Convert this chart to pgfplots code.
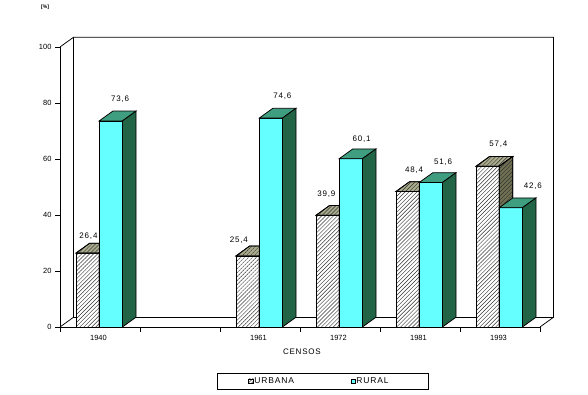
\documentclass[border=0pt]{standalone}
\usepackage{pgfplots}
\pgfplotsset{compat=1.18}
\usepackage{pgfplotstable}
\usetikzlibrary{patterns.meta}
\usepackage{fontspec}
\setmainfont{Liberation Sans}
\newfontfamily\lsp[LetterSpace=10]{Liberation Sans}

\definecolor{cyanfront}{HTML}{66FFFF}
\definecolor{ruraltop}{HTML}{409E80}
\definecolor{ruralside}{HTML}{216446}
\definecolor{urbtop}{HTML}{ABAB8E}
\definecolor{urbside}{HTML}{707052}

\pgfplotstableread{
idx urbana rural
0 26.4 73.6
2 25.4 74.6
3 39.9 60.1
4 48.4 51.6
5 57.4 42.6
}\census

\pgfplotstableread{
x y lab
0.356 32.5 26,4
0.750 81.4 73,6
2.237 31.1 25,4
2.780 82.5 74,6
3.330 47.5 39,9
3.770 67.1 60,1
4.425 56.1 48,4
4.790 58.9 51,6
5.480 65.4 57,4
5.910 50.1 42,6
}\labels

\def\dx{0.17}
\def\dy{3.5}

\tikzset{
  hatch/.style={pattern={Lines[angle=45,distance=2.8pt,line width=0.45pt]}, pattern color=black!80},
}
\pgfplotsset{
  urbfront/.style={preaction={fill=white}, hatch, draw=black, line width=0.75pt},
  urbtopst/.style={preaction={fill=urbtop}, hatch, draw=black, line width=0.75pt},
  urbsidest/.style={preaction={fill=urbside}, hatch, draw=black, line width=0.75pt},
  rurfront/.style={fill=cyanfront, draw=black, line width=0.75pt},
  rurtopst/.style={fill=ruraltop, draw=black, line width=0.75pt},
  rursidest/.style={fill=ruralside, draw=black, line width=0.75pt},
}

\begin{document}
\begin{tikzpicture}
\useasboundingbox (0,0) rectangle (588pt,395pt);
\begin{axis}[
  at={(60pt,68pt)}, anchor=origin,
  scale only axis, width=480pt, height=280pt,
  xmin=0, xmax=6, ymin=0, ymax=100,
  clip=false,
  axis x line*=bottom, axis y line*=left,
  axis line style={line width=0.75pt, black},
  tick style={line width=0.75pt, black},
  tick align=outside, major tick length=5pt,
  xtick={0,1,...,6},
  xticklabels={1940,{},1961,1972,1981,1993,{}},
  xticklabel style={xshift=38.5pt, font=\fontsize{7.5}{9}\selectfont},
  ytick={0,20,...,100},
  yticklabel style={font=\fontsize{7.5}{9}\selectfont},
  /pgf/number format/assume math mode=true,
  xlabel={\lsp CENSOS},
  xlabel style={font=\fontsize{8}{9}\selectfont, at={(axis description cs:0.504,0)}, anchor=center, yshift=-25pt},
  ylabel={[\%]},
  ylabel style={rotate=-90, font=\fontsize{5}{6}\selectfont\bfseries, at={(axis description cs:-0.031,1.143)}, anchor=center},
  legend style={at={(axis description cs:0.3271,-0.1939)}, anchor=west,
    draw=black, line width=0.75pt, inner xsep=31pt, inner ysep=3pt,
    font=\fontsize{8.5}{10}\selectfont\lsp,
    legend columns=2,
    nodes={inner xsep=0.6pt, inner ysep=1pt},
    /tikz/every even column/.append style={column sep=56pt}},
]
% back wall and floor
\addplot[black, line width=0.75pt, forget plot] coordinates {(0,100) (0.17,103.5) (6.17,103.5) (6.17,3.5) (6,0)};
\addplot[black, line width=0.75pt, forget plot] coordinates {(0.17,103.5) (0.17,3.5) (6.17,3.5)};
\addplot[black, line width=0.75pt, forget plot] coordinates {(0,0) (0.17,3.5)};

% URBANA bars
\addplot[ybar, bar width=0.29, bar shift=0pt, urbfront,
  legend image code/.code={\draw[preaction={fill=white}, pattern={Lines[angle=45,distance=2.2pt,line width=0.4pt]}, pattern color=black, draw=black, line width=0.5pt] (0pt,-2.4pt) rectangle (4.8pt,2.4pt);}]
  table[x expr=\thisrow{idx}+0.345, y=urbana] {\census};
\addlegendentry{URBANA}
\pgfplotsforeachungrouped \rowi in {0,1,2,3,4}{%
  \pgfplotstablegetelem{\rowi}{idx}\of\census \pgfmathsetmacro\ci{\pgfplotsretval}%
  \pgfplotstablegetelem{\rowi}{urbana}\of\census \pgfmathsetmacro\valU{\pgfplotsretval}%
  \pgfmathsetmacro\xa{\ci+0.2}\pgfmathsetmacro\xb{\ci+0.49}%
  \pgfmathsetmacro\xc{\xa+\dx}\pgfmathsetmacro\xd{\xb+\dx}\pgfmathsetmacro\vt{\valU+\dy}%
  \addplot[urbtopst, forget plot] coordinates {(\xa,\valU) (\xb,\valU) (\xd,\vt) (\xc,\vt)} -- cycle;
  \addplot[urbsidest, forget plot] coordinates {(\xb,0) (\xb,\valU) (\xd,\vt) (\xd,\dy)} -- cycle;
}

% RURAL bars
\addplot[ybar, bar width=0.29, bar shift=0pt, rurfront,
  legend image code/.code={\draw[fill=cyanfront, draw=black, line width=0.5pt] (0pt,-2.4pt) rectangle (4.8pt,2.4pt);}]
  table[x expr=\thisrow{idx}+0.635, y=rural] {\census};
\addlegendentry{RURAL\hspace*{8pt}}
\pgfplotsforeachungrouped \rowi in {0,1,2,3,4}{%
  \pgfplotstablegetelem{\rowi}{idx}\of\census \pgfmathsetmacro\ci{\pgfplotsretval}%
  \pgfplotstablegetelem{\rowi}{rural}\of\census \pgfmathsetmacro\valR{\pgfplotsretval}%
  \pgfmathsetmacro\xa{\ci+0.49}\pgfmathsetmacro\xb{\ci+0.78}%
  \pgfmathsetmacro\xc{\xa+\dx}\pgfmathsetmacro\xd{\xb+\dx}\pgfmathsetmacro\vt{\valR+\dy}%
  \addplot[rurtopst, forget plot] coordinates {(\xa,\valR) (\xb,\valR) (\xd,\vt) (\xc,\vt)} -- cycle;
  \addplot[rursidest, forget plot] coordinates {(\xb,0) (\xb,\valR) (\xd,\vt) (\xd,\dy)} -- cycle;
}

% data labels
\addplot[draw=none, mark=none, forget plot,
  nodes near coords, point meta=explicit symbolic,
  every node near coord/.append style={anchor=center, font=\fontsize{8}{9}\selectfont\lsp, inner sep=0pt}]
  table[x=x, y=y, meta=lab] {\labels};
\end{axis}
\end{tikzpicture}
\end{document}
